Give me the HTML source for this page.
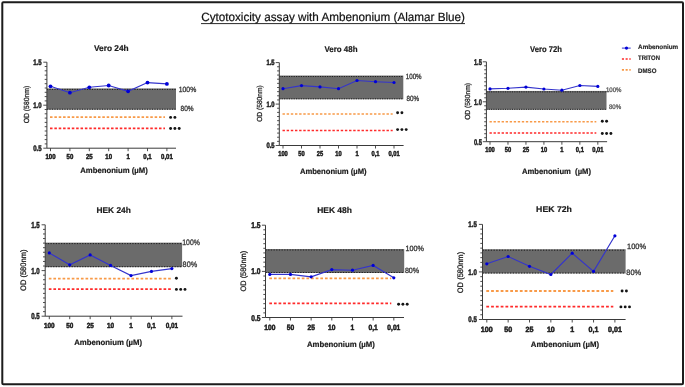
<!DOCTYPE html>
<html><head><meta charset="utf-8"><title>Cytotoxicity assay with Ambenonium</title>
<style>
html,body{margin:0;padding:0;background:#fff;}
body{width:685px;height:387px;overflow:hidden;}
svg{display:block;will-change:transform;filter:blur(0.35px);font-family:"Liberation Sans", sans-serif;}
</style></head>
<body>
<svg width="685" height="387" viewBox="0 0 685 387" text-rendering="geometricPrecision" font-family='"Liberation Sans", sans-serif'>
<rect x="0" y="0" width="685" height="387" fill="#fff"/>
<rect x="2.3" y="2.3" width="680.7" height="382" fill="none" stroke="#1c1c1c" stroke-width="2" rx="1"/>
<text x="201.2" y="21.4" font-size="12" textLength="263.8" lengthAdjust="spacingAndGlyphs" fill="#111" stroke="#111" stroke-width="0.2">Cytotoxicity assay with Ambenonium (Alamar Blue)</text>
<line x1="201" y1="23.6" x2="465" y2="23.6" stroke="#111" stroke-width="0.9"/>
<rect x="46.9" y="88.45" width="129.1" height="21.2" fill="#6b6b6b"/>
<line x1="46.9" y1="89.4" x2="176" y2="89.4" stroke="#1e1e1e" stroke-width="1" stroke-dasharray="1.2 1.3"/>
<line x1="46.9" y1="109.2" x2="176" y2="109.2" stroke="#1e1e1e" stroke-width="1" stroke-dasharray="1.2 1.3"/>
<line x1="50" y1="117.2" x2="165" y2="117.2" stroke="#f89a48" stroke-width="1.7" stroke-dasharray="2.53 1.83"/>
<line x1="50" y1="128.3" x2="165" y2="128.3" stroke="#ff2a2a" stroke-width="1.7" stroke-dasharray="2.53 1.83"/>
<line x1="46.9" y1="62.2" x2="46.9" y2="148.2" stroke="#3a3a3a" stroke-width="1"/>
<line x1="43.3" y1="148.2" x2="46.9" y2="148.2" stroke="#3a3a3a" stroke-width="0.9"/>
<line x1="44.7" y1="143.9" x2="46.9" y2="143.9" stroke="#3a3a3a" stroke-width="0.9"/>
<line x1="44.7" y1="139.6" x2="46.9" y2="139.6" stroke="#3a3a3a" stroke-width="0.9"/>
<line x1="44.7" y1="135.3" x2="46.9" y2="135.3" stroke="#3a3a3a" stroke-width="0.9"/>
<line x1="44.7" y1="131" x2="46.9" y2="131" stroke="#3a3a3a" stroke-width="0.9"/>
<line x1="44.7" y1="126.7" x2="46.9" y2="126.7" stroke="#3a3a3a" stroke-width="0.9"/>
<line x1="44.7" y1="122.4" x2="46.9" y2="122.4" stroke="#3a3a3a" stroke-width="0.9"/>
<line x1="44.7" y1="118.1" x2="46.9" y2="118.1" stroke="#3a3a3a" stroke-width="0.9"/>
<line x1="44.7" y1="113.8" x2="46.9" y2="113.8" stroke="#3a3a3a" stroke-width="0.9"/>
<line x1="44.7" y1="109.5" x2="46.9" y2="109.5" stroke="#3a3a3a" stroke-width="0.9"/>
<line x1="43.3" y1="105.2" x2="46.9" y2="105.2" stroke="#3a3a3a" stroke-width="0.9"/>
<line x1="44.7" y1="100.9" x2="46.9" y2="100.9" stroke="#3a3a3a" stroke-width="0.9"/>
<line x1="44.7" y1="96.6" x2="46.9" y2="96.6" stroke="#3a3a3a" stroke-width="0.9"/>
<line x1="44.7" y1="92.3" x2="46.9" y2="92.3" stroke="#3a3a3a" stroke-width="0.9"/>
<line x1="44.7" y1="88" x2="46.9" y2="88" stroke="#3a3a3a" stroke-width="0.9"/>
<line x1="44.7" y1="83.7" x2="46.9" y2="83.7" stroke="#3a3a3a" stroke-width="0.9"/>
<line x1="44.7" y1="79.4" x2="46.9" y2="79.4" stroke="#3a3a3a" stroke-width="0.9"/>
<line x1="44.7" y1="75.1" x2="46.9" y2="75.1" stroke="#3a3a3a" stroke-width="0.9"/>
<line x1="44.7" y1="70.8" x2="46.9" y2="70.8" stroke="#3a3a3a" stroke-width="0.9"/>
<line x1="44.7" y1="66.5" x2="46.9" y2="66.5" stroke="#3a3a3a" stroke-width="0.9"/>
<line x1="43.3" y1="62.2" x2="46.9" y2="62.2" stroke="#3a3a3a" stroke-width="0.9"/>
<line x1="46.9" y1="148.2" x2="176" y2="148.2" stroke="#3a3a3a" stroke-width="1"/>
<line x1="50.5" y1="148.2" x2="50.5" y2="151.2" stroke="#3a3a3a" stroke-width="0.9"/>
<line x1="69.9" y1="148.2" x2="69.9" y2="151.2" stroke="#3a3a3a" stroke-width="0.9"/>
<line x1="89.3" y1="148.2" x2="89.3" y2="151.2" stroke="#3a3a3a" stroke-width="0.9"/>
<line x1="108.7" y1="148.2" x2="108.7" y2="151.2" stroke="#3a3a3a" stroke-width="0.9"/>
<line x1="128.1" y1="148.2" x2="128.1" y2="151.2" stroke="#3a3a3a" stroke-width="0.9"/>
<line x1="147.5" y1="148.2" x2="147.5" y2="151.2" stroke="#3a3a3a" stroke-width="0.9"/>
<line x1="166.9" y1="148.2" x2="166.9" y2="151.2" stroke="#3a3a3a" stroke-width="0.9"/>
<polyline points="50.5,86.3 69.9,92.7 89.3,87.3 108.7,85.5 128.1,91.3 147.5,82.6 166.9,83.9" fill="none" stroke="#3434cc" stroke-width="1.15"/>
<circle cx="50.5" cy="86.3" r="1.9" fill="#0000d8"/>
<circle cx="69.9" cy="92.7" r="1.9" fill="#0000d8"/>
<circle cx="89.3" cy="87.3" r="1.9" fill="#0000d8"/>
<circle cx="108.7" cy="85.5" r="1.9" fill="#0000d8"/>
<circle cx="128.1" cy="91.3" r="1.9" fill="#0000d8"/>
<circle cx="147.5" cy="82.6" r="1.9" fill="#0000d8"/>
<circle cx="166.9" cy="83.9" r="1.9" fill="#0000d8"/>
<text x="33.2" y="65.06" font-size="8.0" font-weight="bold" textLength="8.4" lengthAdjust="spacingAndGlyphs" fill="#1a1a1a" stroke="#1a1a1a" stroke-width="0.5">1.5</text>
<text x="33.2" y="108.06" font-size="8.0" font-weight="bold" textLength="8.4" lengthAdjust="spacingAndGlyphs" fill="#1a1a1a" stroke="#1a1a1a" stroke-width="0.5">1.0</text>
<text x="33.2" y="151.06" font-size="8.0" font-weight="bold" textLength="8.4" lengthAdjust="spacingAndGlyphs" fill="#1a1a1a" stroke="#1a1a1a" stroke-width="0.5">0.5</text>
<text transform="translate(50.5,159.08) scale(0.84,1)" font-size="7.2" font-weight="bold" text-anchor="middle" fill="#1a1a1a" stroke="#1a1a1a" stroke-width="0.5">100</text>
<text transform="translate(69.9,159.08) scale(0.84,1)" font-size="7.2" font-weight="bold" text-anchor="middle" fill="#1a1a1a" stroke="#1a1a1a" stroke-width="0.5">50</text>
<text transform="translate(89.3,159.08) scale(0.84,1)" font-size="7.2" font-weight="bold" text-anchor="middle" fill="#1a1a1a" stroke="#1a1a1a" stroke-width="0.5">25</text>
<text transform="translate(108.7,159.08) scale(0.84,1)" font-size="7.2" font-weight="bold" text-anchor="middle" fill="#1a1a1a" stroke="#1a1a1a" stroke-width="0.5">10</text>
<text transform="translate(128.1,159.08) scale(0.84,1)" font-size="7.2" font-weight="bold" text-anchor="middle" fill="#1a1a1a" stroke="#1a1a1a" stroke-width="0.5">1</text>
<text transform="translate(147.5,159.08) scale(0.84,1)" font-size="7.2" font-weight="bold" text-anchor="middle" fill="#1a1a1a" stroke="#1a1a1a" stroke-width="0.5">0,1</text>
<text transform="translate(166.9,159.08) scale(0.84,1)" font-size="7.2" font-weight="bold" text-anchor="middle" fill="#1a1a1a" stroke="#1a1a1a" stroke-width="0.5">0,01</text>
<text x="178.8" y="91.69" font-size="7.5" textLength="17.4" lengthAdjust="spacingAndGlyphs" fill="#333" stroke="#333" stroke-width="0.3">100%</text>
<text x="180.5" y="110.59" font-size="7.5" textLength="13.1" lengthAdjust="spacingAndGlyphs" fill="#333" stroke="#333" stroke-width="0.3">80%</text>
<circle cx="170.6" cy="117.4" r="1.45" fill="#151515"/>
<circle cx="174.9" cy="117.4" r="1.45" fill="#151515"/>
<circle cx="170.6" cy="128.5" r="1.45" fill="#151515"/>
<circle cx="174.9" cy="128.5" r="1.45" fill="#151515"/>
<circle cx="179.2" cy="128.5" r="1.45" fill="#151515"/>
<text x="94" y="51.1" font-size="8.4" font-weight="bold" textLength="34.7" lengthAdjust="spacingAndGlyphs" fill="#1a1a1a" stroke="#1a1a1a" stroke-width="0.2">Vero 24h</text>
<text x="80.3" y="173.06" font-size="8" font-weight="bold" textLength="67.4" lengthAdjust="spacingAndGlyphs" fill="#1a1a1a" stroke="#1a1a1a" stroke-width="0.2" xml:space="preserve" style="white-space:pre">Ambenonium (µM)</text>
<text transform="translate(29.35,123.25) rotate(-90)" x="0" y="0" font-size="7.4" textLength="37.4" lengthAdjust="spacingAndGlyphs" fill="#1a1a1a" stroke="#1a1a1a" stroke-width="0.25">OD (580nm)</text>
<rect x="279.3" y="75.55" width="124" height="23.7" fill="#6b6b6b"/>
<line x1="279.3" y1="76.5" x2="403.3" y2="76.5" stroke="#1e1e1e" stroke-width="1" stroke-dasharray="1.15 1.24"/>
<line x1="279.3" y1="98.8" x2="403.3" y2="98.8" stroke="#1e1e1e" stroke-width="1" stroke-dasharray="1.15 1.24"/>
<line x1="282.5" y1="114" x2="392.7" y2="114" stroke="#f89a48" stroke-width="1.62" stroke-dasharray="2.41 1.75"/>
<line x1="282.5" y1="130.5" x2="392.7" y2="130.5" stroke="#ff2a2a" stroke-width="1.62" stroke-dasharray="2.41 1.75"/>
<line x1="279.3" y1="62.6" x2="279.3" y2="145.5" stroke="#3a3a3a" stroke-width="1"/>
<line x1="275.7" y1="145.5" x2="279.3" y2="145.5" stroke="#3a3a3a" stroke-width="0.9"/>
<line x1="277.1" y1="141.36" x2="279.3" y2="141.36" stroke="#3a3a3a" stroke-width="0.9"/>
<line x1="277.1" y1="137.22" x2="279.3" y2="137.22" stroke="#3a3a3a" stroke-width="0.9"/>
<line x1="277.1" y1="133.08" x2="279.3" y2="133.08" stroke="#3a3a3a" stroke-width="0.9"/>
<line x1="277.1" y1="128.94" x2="279.3" y2="128.94" stroke="#3a3a3a" stroke-width="0.9"/>
<line x1="277.1" y1="124.8" x2="279.3" y2="124.8" stroke="#3a3a3a" stroke-width="0.9"/>
<line x1="277.1" y1="120.66" x2="279.3" y2="120.66" stroke="#3a3a3a" stroke-width="0.9"/>
<line x1="277.1" y1="116.52" x2="279.3" y2="116.52" stroke="#3a3a3a" stroke-width="0.9"/>
<line x1="277.1" y1="112.38" x2="279.3" y2="112.38" stroke="#3a3a3a" stroke-width="0.9"/>
<line x1="277.1" y1="108.24" x2="279.3" y2="108.24" stroke="#3a3a3a" stroke-width="0.9"/>
<line x1="275.7" y1="104.1" x2="279.3" y2="104.1" stroke="#3a3a3a" stroke-width="0.9"/>
<line x1="277.1" y1="99.95" x2="279.3" y2="99.95" stroke="#3a3a3a" stroke-width="0.9"/>
<line x1="277.1" y1="95.8" x2="279.3" y2="95.8" stroke="#3a3a3a" stroke-width="0.9"/>
<line x1="277.1" y1="91.65" x2="279.3" y2="91.65" stroke="#3a3a3a" stroke-width="0.9"/>
<line x1="277.1" y1="87.5" x2="279.3" y2="87.5" stroke="#3a3a3a" stroke-width="0.9"/>
<line x1="277.1" y1="83.35" x2="279.3" y2="83.35" stroke="#3a3a3a" stroke-width="0.9"/>
<line x1="277.1" y1="79.2" x2="279.3" y2="79.2" stroke="#3a3a3a" stroke-width="0.9"/>
<line x1="277.1" y1="75.05" x2="279.3" y2="75.05" stroke="#3a3a3a" stroke-width="0.9"/>
<line x1="277.1" y1="70.9" x2="279.3" y2="70.9" stroke="#3a3a3a" stroke-width="0.9"/>
<line x1="277.1" y1="66.75" x2="279.3" y2="66.75" stroke="#3a3a3a" stroke-width="0.9"/>
<line x1="275.7" y1="62.6" x2="279.3" y2="62.6" stroke="#3a3a3a" stroke-width="0.9"/>
<line x1="279.3" y1="145.5" x2="403.6" y2="145.5" stroke="#3a3a3a" stroke-width="1"/>
<line x1="283" y1="145.5" x2="283" y2="148.5" stroke="#3a3a3a" stroke-width="0.9"/>
<line x1="301.5" y1="145.5" x2="301.5" y2="148.5" stroke="#3a3a3a" stroke-width="0.9"/>
<line x1="320" y1="145.5" x2="320" y2="148.5" stroke="#3a3a3a" stroke-width="0.9"/>
<line x1="338.5" y1="145.5" x2="338.5" y2="148.5" stroke="#3a3a3a" stroke-width="0.9"/>
<line x1="357" y1="145.5" x2="357" y2="148.5" stroke="#3a3a3a" stroke-width="0.9"/>
<line x1="375.5" y1="145.5" x2="375.5" y2="148.5" stroke="#3a3a3a" stroke-width="0.9"/>
<line x1="394" y1="145.5" x2="394" y2="148.5" stroke="#3a3a3a" stroke-width="0.9"/>
<polyline points="283,88.7 301.5,85.6 320,86.9 338.5,88.7 357,80.5 375.5,81.7 394,82.5" fill="none" stroke="#3434cc" stroke-width="1.15"/>
<circle cx="283" cy="88.7" r="1.6" fill="#0000d8"/>
<circle cx="301.5" cy="85.6" r="1.6" fill="#0000d8"/>
<circle cx="320" cy="86.9" r="1.6" fill="#0000d8"/>
<circle cx="338.5" cy="88.7" r="1.6" fill="#0000d8"/>
<circle cx="357" cy="80.5" r="1.6" fill="#0000d8"/>
<circle cx="375.5" cy="81.7" r="1.6" fill="#0000d8"/>
<circle cx="394" cy="82.5" r="1.6" fill="#0000d8"/>
<text x="266.5" y="65.39" font-size="7.8" font-weight="bold" textLength="8.1" lengthAdjust="spacingAndGlyphs" fill="#1a1a1a" stroke="#1a1a1a" stroke-width="0.5">1.5</text>
<text x="266.5" y="106.89" font-size="7.8" font-weight="bold" textLength="8.1" lengthAdjust="spacingAndGlyphs" fill="#1a1a1a" stroke="#1a1a1a" stroke-width="0.5">1.0</text>
<text x="266.5" y="148.29" font-size="7.8" font-weight="bold" textLength="8.1" lengthAdjust="spacingAndGlyphs" fill="#1a1a1a" stroke="#1a1a1a" stroke-width="0.5">0.5</text>
<text transform="translate(283,155.88) scale(0.8,1)" font-size="7.2" font-weight="bold" text-anchor="middle" fill="#1a1a1a" stroke="#1a1a1a" stroke-width="0.5">100</text>
<text transform="translate(301.5,155.88) scale(0.8,1)" font-size="7.2" font-weight="bold" text-anchor="middle" fill="#1a1a1a" stroke="#1a1a1a" stroke-width="0.5">50</text>
<text transform="translate(320,155.88) scale(0.8,1)" font-size="7.2" font-weight="bold" text-anchor="middle" fill="#1a1a1a" stroke="#1a1a1a" stroke-width="0.5">25</text>
<text transform="translate(338.5,155.88) scale(0.8,1)" font-size="7.2" font-weight="bold" text-anchor="middle" fill="#1a1a1a" stroke="#1a1a1a" stroke-width="0.5">10</text>
<text transform="translate(357,155.88) scale(0.8,1)" font-size="7.2" font-weight="bold" text-anchor="middle" fill="#1a1a1a" stroke="#1a1a1a" stroke-width="0.5">1</text>
<text transform="translate(375.5,155.88) scale(0.8,1)" font-size="7.2" font-weight="bold" text-anchor="middle" fill="#1a1a1a" stroke="#1a1a1a" stroke-width="0.5">0,1</text>
<text transform="translate(394,155.88) scale(0.8,1)" font-size="7.2" font-weight="bold" text-anchor="middle" fill="#1a1a1a" stroke="#1a1a1a" stroke-width="0.5">0,01</text>
<text x="405.8" y="79.28" font-size="7.5" textLength="15.8" lengthAdjust="spacingAndGlyphs" fill="#333" stroke="#333" stroke-width="0.3">100%</text>
<text x="406.6" y="100.78" font-size="7.5" textLength="12.6" lengthAdjust="spacingAndGlyphs" fill="#333" stroke="#333" stroke-width="0.3">80%</text>
<circle cx="397.6" cy="112.8" r="1.45" fill="#151515"/>
<circle cx="401.9" cy="112.8" r="1.45" fill="#151515"/>
<circle cx="397.6" cy="129.6" r="1.45" fill="#151515"/>
<circle cx="401.9" cy="129.6" r="1.45" fill="#151515"/>
<circle cx="406.2" cy="129.6" r="1.45" fill="#151515"/>
<text x="324.5" y="52.1" font-size="8.4" font-weight="bold" textLength="33" lengthAdjust="spacingAndGlyphs" fill="#1a1a1a" stroke="#1a1a1a" stroke-width="0.2">Vero 48h</text>
<text x="299.9" y="174.26" font-size="8" font-weight="bold" textLength="66.7" lengthAdjust="spacingAndGlyphs" fill="#1a1a1a" stroke="#1a1a1a" stroke-width="0.2" xml:space="preserve" style="white-space:pre">Ambenonium (µM)</text>
<text transform="translate(262.02,121.85) rotate(-90)" x="0" y="0" font-size="7.3" textLength="36.6" lengthAdjust="spacingAndGlyphs" fill="#1a1a1a" stroke="#1a1a1a" stroke-width="0.25">OD (580nm)</text>
<rect x="486.4" y="90.95" width="120.1" height="18.8" fill="#6b6b6b"/>
<line x1="486.4" y1="91.9" x2="606.5" y2="91.9" stroke="#1e1e1e" stroke-width="1" stroke-dasharray="1.11 1.21"/>
<line x1="486.4" y1="109.3" x2="606.5" y2="109.3" stroke="#1e1e1e" stroke-width="1" stroke-dasharray="1.11 1.21"/>
<line x1="489.5" y1="121.8" x2="596.3" y2="121.8" stroke="#f89a48" stroke-width="1.57" stroke-dasharray="2.34 1.7"/>
<line x1="489.5" y1="133" x2="596.3" y2="133" stroke="#ff2a2a" stroke-width="1.57" stroke-dasharray="2.34 1.7"/>
<line x1="486.4" y1="61.8" x2="486.4" y2="141.7" stroke="#3a3a3a" stroke-width="1"/>
<line x1="482.8" y1="141.7" x2="486.4" y2="141.7" stroke="#3a3a3a" stroke-width="0.9"/>
<line x1="484.2" y1="137.71" x2="486.4" y2="137.71" stroke="#3a3a3a" stroke-width="0.9"/>
<line x1="484.2" y1="133.72" x2="486.4" y2="133.72" stroke="#3a3a3a" stroke-width="0.9"/>
<line x1="484.2" y1="129.73" x2="486.4" y2="129.73" stroke="#3a3a3a" stroke-width="0.9"/>
<line x1="484.2" y1="125.74" x2="486.4" y2="125.74" stroke="#3a3a3a" stroke-width="0.9"/>
<line x1="484.2" y1="121.75" x2="486.4" y2="121.75" stroke="#3a3a3a" stroke-width="0.9"/>
<line x1="484.2" y1="117.76" x2="486.4" y2="117.76" stroke="#3a3a3a" stroke-width="0.9"/>
<line x1="484.2" y1="113.77" x2="486.4" y2="113.77" stroke="#3a3a3a" stroke-width="0.9"/>
<line x1="484.2" y1="109.78" x2="486.4" y2="109.78" stroke="#3a3a3a" stroke-width="0.9"/>
<line x1="484.2" y1="105.79" x2="486.4" y2="105.79" stroke="#3a3a3a" stroke-width="0.9"/>
<line x1="482.8" y1="101.8" x2="486.4" y2="101.8" stroke="#3a3a3a" stroke-width="0.9"/>
<line x1="484.2" y1="97.8" x2="486.4" y2="97.8" stroke="#3a3a3a" stroke-width="0.9"/>
<line x1="484.2" y1="93.8" x2="486.4" y2="93.8" stroke="#3a3a3a" stroke-width="0.9"/>
<line x1="484.2" y1="89.8" x2="486.4" y2="89.8" stroke="#3a3a3a" stroke-width="0.9"/>
<line x1="484.2" y1="85.8" x2="486.4" y2="85.8" stroke="#3a3a3a" stroke-width="0.9"/>
<line x1="484.2" y1="81.8" x2="486.4" y2="81.8" stroke="#3a3a3a" stroke-width="0.9"/>
<line x1="484.2" y1="77.8" x2="486.4" y2="77.8" stroke="#3a3a3a" stroke-width="0.9"/>
<line x1="484.2" y1="73.8" x2="486.4" y2="73.8" stroke="#3a3a3a" stroke-width="0.9"/>
<line x1="484.2" y1="69.8" x2="486.4" y2="69.8" stroke="#3a3a3a" stroke-width="0.9"/>
<line x1="484.2" y1="65.8" x2="486.4" y2="65.8" stroke="#3a3a3a" stroke-width="0.9"/>
<line x1="482.8" y1="61.8" x2="486.4" y2="61.8" stroke="#3a3a3a" stroke-width="0.9"/>
<line x1="486.4" y1="141.7" x2="607.1" y2="141.7" stroke="#3a3a3a" stroke-width="1"/>
<line x1="490" y1="141.7" x2="490" y2="144.7" stroke="#3a3a3a" stroke-width="0.9"/>
<line x1="507.97" y1="141.7" x2="507.97" y2="144.7" stroke="#3a3a3a" stroke-width="0.9"/>
<line x1="525.94" y1="141.7" x2="525.94" y2="144.7" stroke="#3a3a3a" stroke-width="0.9"/>
<line x1="543.91" y1="141.7" x2="543.91" y2="144.7" stroke="#3a3a3a" stroke-width="0.9"/>
<line x1="561.88" y1="141.7" x2="561.88" y2="144.7" stroke="#3a3a3a" stroke-width="0.9"/>
<line x1="579.85" y1="141.7" x2="579.85" y2="144.7" stroke="#3a3a3a" stroke-width="0.9"/>
<line x1="597.82" y1="141.7" x2="597.82" y2="144.7" stroke="#3a3a3a" stroke-width="0.9"/>
<polyline points="490,88.9 507.97,88.3 525.94,87.1 543.91,89 561.88,90.2 579.85,85.5 597.82,86.4" fill="none" stroke="#3434cc" stroke-width="1.15"/>
<circle cx="490" cy="88.9" r="1.6" fill="#0000d8"/>
<circle cx="507.97" cy="88.3" r="1.6" fill="#0000d8"/>
<circle cx="525.94" cy="87.1" r="1.6" fill="#0000d8"/>
<circle cx="543.91" cy="89" r="1.6" fill="#0000d8"/>
<circle cx="561.88" cy="90.2" r="1.6" fill="#0000d8"/>
<circle cx="579.85" cy="85.5" r="1.6" fill="#0000d8"/>
<circle cx="597.82" cy="86.4" r="1.6" fill="#0000d8"/>
<text x="473.9" y="64.74" font-size="8.2" font-weight="bold" textLength="7.9" lengthAdjust="spacingAndGlyphs" fill="#1a1a1a" stroke="#1a1a1a" stroke-width="0.5">1.5</text>
<text x="473.9" y="104.74" font-size="8.2" font-weight="bold" textLength="7.9" lengthAdjust="spacingAndGlyphs" fill="#1a1a1a" stroke="#1a1a1a" stroke-width="0.5">1.0</text>
<text x="473.9" y="144.64" font-size="8.2" font-weight="bold" textLength="7.9" lengthAdjust="spacingAndGlyphs" fill="#1a1a1a" stroke="#1a1a1a" stroke-width="0.5">0.5</text>
<text transform="translate(490,151.88) scale(0.8,1)" font-size="7.2" font-weight="bold" text-anchor="middle" fill="#1a1a1a" stroke="#1a1a1a" stroke-width="0.5">100</text>
<text transform="translate(507.97,151.88) scale(0.8,1)" font-size="7.2" font-weight="bold" text-anchor="middle" fill="#1a1a1a" stroke="#1a1a1a" stroke-width="0.5">50</text>
<text transform="translate(525.94,151.88) scale(0.8,1)" font-size="7.2" font-weight="bold" text-anchor="middle" fill="#1a1a1a" stroke="#1a1a1a" stroke-width="0.5">25</text>
<text transform="translate(543.91,151.88) scale(0.8,1)" font-size="7.2" font-weight="bold" text-anchor="middle" fill="#1a1a1a" stroke="#1a1a1a" stroke-width="0.5">10</text>
<text transform="translate(561.88,151.88) scale(0.8,1)" font-size="7.2" font-weight="bold" text-anchor="middle" fill="#1a1a1a" stroke="#1a1a1a" stroke-width="0.5">1</text>
<text transform="translate(579.85,151.88) scale(0.8,1)" font-size="7.2" font-weight="bold" text-anchor="middle" fill="#1a1a1a" stroke="#1a1a1a" stroke-width="0.5">0,1</text>
<text transform="translate(597.82,151.88) scale(0.8,1)" font-size="7.2" font-weight="bold" text-anchor="middle" fill="#1a1a1a" stroke="#1a1a1a" stroke-width="0.5">0,01</text>
<text x="606" y="91.96" font-size="6.6" textLength="15.5" lengthAdjust="spacingAndGlyphs" fill="#555" stroke="#555" stroke-width="0.3">100%</text>
<text x="608.9" y="109.36" font-size="6.6" textLength="12.3" lengthAdjust="spacingAndGlyphs" fill="#555" stroke="#555" stroke-width="0.3">80%</text>
<circle cx="602.3" cy="121.2" r="1.45" fill="#151515"/>
<circle cx="606.6" cy="121.2" r="1.45" fill="#151515"/>
<circle cx="602.3" cy="133.5" r="1.45" fill="#151515"/>
<circle cx="606.6" cy="133.5" r="1.45" fill="#151515"/>
<circle cx="610.9" cy="133.5" r="1.45" fill="#151515"/>
<text x="530" y="51.8" font-size="8.4" font-weight="bold" textLength="31.9" lengthAdjust="spacingAndGlyphs" fill="#1a1a1a" stroke="#1a1a1a" stroke-width="0.2">Vero 72h</text>
<text x="522" y="174.26" font-size="8" font-weight="bold" textLength="69" lengthAdjust="spacingAndGlyphs" fill="#1a1a1a" stroke="#1a1a1a" stroke-width="0.2" xml:space="preserve" style="white-space:pre">Ambenonium  (µM)</text>
<text transform="translate(470.37,119.85) rotate(-90)" x="0" y="0" font-size="7.3" textLength="36.9" lengthAdjust="spacingAndGlyphs" fill="#1a1a1a" stroke="#1a1a1a" stroke-width="0.25">OD (580nm)</text>
<rect x="45.2" y="242.65" width="136.9" height="24.5" fill="#6b6b6b"/>
<line x1="45.2" y1="243.6" x2="182.1" y2="243.6" stroke="#1e1e1e" stroke-width="1" stroke-dasharray="1.27 1.37"/>
<line x1="45.2" y1="266.7" x2="182.1" y2="266.7" stroke="#1e1e1e" stroke-width="1" stroke-dasharray="1.27 1.37"/>
<line x1="48.8" y1="278.7" x2="171" y2="278.7" stroke="#f89a48" stroke-width="1.79" stroke-dasharray="2.66 1.93"/>
<line x1="48.8" y1="289.1" x2="171" y2="289.1" stroke="#ff2a2a" stroke-width="1.79" stroke-dasharray="2.66 1.93"/>
<line x1="45.2" y1="224.8" x2="45.2" y2="316.2" stroke="#3a3a3a" stroke-width="1"/>
<line x1="41.6" y1="316.2" x2="45.2" y2="316.2" stroke="#3a3a3a" stroke-width="0.9"/>
<line x1="43" y1="311.64" x2="45.2" y2="311.64" stroke="#3a3a3a" stroke-width="0.9"/>
<line x1="43" y1="307.08" x2="45.2" y2="307.08" stroke="#3a3a3a" stroke-width="0.9"/>
<line x1="43" y1="302.52" x2="45.2" y2="302.52" stroke="#3a3a3a" stroke-width="0.9"/>
<line x1="43" y1="297.96" x2="45.2" y2="297.96" stroke="#3a3a3a" stroke-width="0.9"/>
<line x1="43" y1="293.4" x2="45.2" y2="293.4" stroke="#3a3a3a" stroke-width="0.9"/>
<line x1="43" y1="288.84" x2="45.2" y2="288.84" stroke="#3a3a3a" stroke-width="0.9"/>
<line x1="43" y1="284.28" x2="45.2" y2="284.28" stroke="#3a3a3a" stroke-width="0.9"/>
<line x1="43" y1="279.72" x2="45.2" y2="279.72" stroke="#3a3a3a" stroke-width="0.9"/>
<line x1="43" y1="275.16" x2="45.2" y2="275.16" stroke="#3a3a3a" stroke-width="0.9"/>
<line x1="41.6" y1="270.6" x2="45.2" y2="270.6" stroke="#3a3a3a" stroke-width="0.9"/>
<line x1="43" y1="266.02" x2="45.2" y2="266.02" stroke="#3a3a3a" stroke-width="0.9"/>
<line x1="43" y1="261.44" x2="45.2" y2="261.44" stroke="#3a3a3a" stroke-width="0.9"/>
<line x1="43" y1="256.86" x2="45.2" y2="256.86" stroke="#3a3a3a" stroke-width="0.9"/>
<line x1="43" y1="252.28" x2="45.2" y2="252.28" stroke="#3a3a3a" stroke-width="0.9"/>
<line x1="43" y1="247.7" x2="45.2" y2="247.7" stroke="#3a3a3a" stroke-width="0.9"/>
<line x1="43" y1="243.12" x2="45.2" y2="243.12" stroke="#3a3a3a" stroke-width="0.9"/>
<line x1="43" y1="238.54" x2="45.2" y2="238.54" stroke="#3a3a3a" stroke-width="0.9"/>
<line x1="43" y1="233.96" x2="45.2" y2="233.96" stroke="#3a3a3a" stroke-width="0.9"/>
<line x1="43" y1="229.38" x2="45.2" y2="229.38" stroke="#3a3a3a" stroke-width="0.9"/>
<line x1="41.6" y1="224.8" x2="45.2" y2="224.8" stroke="#3a3a3a" stroke-width="0.9"/>
<line x1="45.2" y1="316.2" x2="182.5" y2="316.2" stroke="#3a3a3a" stroke-width="1"/>
<line x1="49.3" y1="316.2" x2="49.3" y2="319.2" stroke="#3a3a3a" stroke-width="0.9"/>
<line x1="69.73" y1="316.2" x2="69.73" y2="319.2" stroke="#3a3a3a" stroke-width="0.9"/>
<line x1="90.16" y1="316.2" x2="90.16" y2="319.2" stroke="#3a3a3a" stroke-width="0.9"/>
<line x1="110.59" y1="316.2" x2="110.59" y2="319.2" stroke="#3a3a3a" stroke-width="0.9"/>
<line x1="131.02" y1="316.2" x2="131.02" y2="319.2" stroke="#3a3a3a" stroke-width="0.9"/>
<line x1="151.45" y1="316.2" x2="151.45" y2="319.2" stroke="#3a3a3a" stroke-width="0.9"/>
<line x1="171.88" y1="316.2" x2="171.88" y2="319.2" stroke="#3a3a3a" stroke-width="0.9"/>
<polyline points="49.3,252.9 69.73,264.8 90.16,254.9 110.59,265.4 131.02,275.6 151.45,271.4 171.88,268.6" fill="none" stroke="#3434cc" stroke-width="1.15"/>
<circle cx="49.3" cy="252.9" r="1.6" fill="#0000d8"/>
<circle cx="69.73" cy="264.8" r="1.6" fill="#0000d8"/>
<circle cx="90.16" cy="254.9" r="1.6" fill="#0000d8"/>
<circle cx="110.59" cy="265.4" r="1.6" fill="#0000d8"/>
<circle cx="131.02" cy="275.6" r="1.6" fill="#0000d8"/>
<circle cx="151.45" cy="271.4" r="1.6" fill="#0000d8"/>
<circle cx="171.88" cy="268.6" r="1.6" fill="#0000d8"/>
<text x="31.2" y="227.88" font-size="8.6" font-weight="bold" textLength="8.5" lengthAdjust="spacingAndGlyphs" fill="#1a1a1a" stroke="#1a1a1a" stroke-width="0.5">1.5</text>
<text x="31.2" y="273.68" font-size="8.6" font-weight="bold" textLength="8.5" lengthAdjust="spacingAndGlyphs" fill="#1a1a1a" stroke="#1a1a1a" stroke-width="0.5">1.0</text>
<text x="31.2" y="319.28" font-size="8.6" font-weight="bold" textLength="8.5" lengthAdjust="spacingAndGlyphs" fill="#1a1a1a" stroke="#1a1a1a" stroke-width="0.5">0.5</text>
<text transform="translate(49.3,327.85) scale(0.86,1)" font-size="7.4" font-weight="bold" text-anchor="middle" fill="#1a1a1a" stroke="#1a1a1a" stroke-width="0.5">100</text>
<text transform="translate(69.73,327.85) scale(0.86,1)" font-size="7.4" font-weight="bold" text-anchor="middle" fill="#1a1a1a" stroke="#1a1a1a" stroke-width="0.5">50</text>
<text transform="translate(90.16,327.85) scale(0.86,1)" font-size="7.4" font-weight="bold" text-anchor="middle" fill="#1a1a1a" stroke="#1a1a1a" stroke-width="0.5">25</text>
<text transform="translate(110.59,327.85) scale(0.86,1)" font-size="7.4" font-weight="bold" text-anchor="middle" fill="#1a1a1a" stroke="#1a1a1a" stroke-width="0.5">10</text>
<text transform="translate(131.02,327.85) scale(0.86,1)" font-size="7.4" font-weight="bold" text-anchor="middle" fill="#1a1a1a" stroke="#1a1a1a" stroke-width="0.5">1</text>
<text transform="translate(151.45,327.85) scale(0.86,1)" font-size="7.4" font-weight="bold" text-anchor="middle" fill="#1a1a1a" stroke="#1a1a1a" stroke-width="0.5">0,1</text>
<text transform="translate(171.88,327.85) scale(0.86,1)" font-size="7.4" font-weight="bold" text-anchor="middle" fill="#1a1a1a" stroke="#1a1a1a" stroke-width="0.5">0,01</text>
<text x="182.3" y="244.93" font-size="7.9" textLength="17.6" lengthAdjust="spacingAndGlyphs" fill="#333" stroke="#333" stroke-width="0.3">100%</text>
<text x="182.6" y="267.33" font-size="7.9" textLength="14.6" lengthAdjust="spacingAndGlyphs" fill="#333" stroke="#333" stroke-width="0.3">80%</text>
<circle cx="176.4" cy="278.3" r="1.45" fill="#151515"/>
<circle cx="176.4" cy="289.4" r="1.45" fill="#151515"/>
<circle cx="180.7" cy="289.4" r="1.45" fill="#151515"/>
<circle cx="185" cy="289.4" r="1.45" fill="#151515"/>
<text x="96.5" y="213.3" font-size="8.4" font-weight="bold" textLength="34.3" lengthAdjust="spacingAndGlyphs" fill="#1a1a1a" stroke="#1a1a1a" stroke-width="0.2">HEK 24h</text>
<text x="74.2" y="345.06" font-size="8" font-weight="bold" textLength="67.9" lengthAdjust="spacingAndGlyphs" fill="#1a1a1a" stroke="#1a1a1a" stroke-width="0.2" xml:space="preserve" style="white-space:pre">Ambenonium (µM)</text>
<text transform="translate(26.26,290.95) rotate(-90)" x="0" y="0" font-size="8.0" textLength="41.4" lengthAdjust="spacingAndGlyphs" fill="#1a1a1a" stroke="#1a1a1a" stroke-width="0.25">OD (580nm)</text>
<rect x="265.5" y="249.05" width="138.7" height="23.9" fill="#6b6b6b"/>
<line x1="265.5" y1="250" x2="404.2" y2="250" stroke="#1e1e1e" stroke-width="1" stroke-dasharray="1.28 1.39"/>
<line x1="265.5" y1="272.5" x2="404.2" y2="272.5" stroke="#1e1e1e" stroke-width="1" stroke-dasharray="1.28 1.39"/>
<line x1="269.3" y1="278.3" x2="391.3" y2="278.3" stroke="#f89a48" stroke-width="1.81" stroke-dasharray="2.69 1.95"/>
<line x1="269.3" y1="303.3" x2="391.3" y2="303.3" stroke="#ff2a2a" stroke-width="1.81" stroke-dasharray="2.69 1.95"/>
<line x1="265.5" y1="225.2" x2="265.5" y2="317.5" stroke="#3a3a3a" stroke-width="1"/>
<line x1="261.9" y1="317.5" x2="265.5" y2="317.5" stroke="#3a3a3a" stroke-width="0.9"/>
<line x1="263.3" y1="312.89" x2="265.5" y2="312.89" stroke="#3a3a3a" stroke-width="0.9"/>
<line x1="263.3" y1="308.28" x2="265.5" y2="308.28" stroke="#3a3a3a" stroke-width="0.9"/>
<line x1="263.3" y1="303.67" x2="265.5" y2="303.67" stroke="#3a3a3a" stroke-width="0.9"/>
<line x1="263.3" y1="299.06" x2="265.5" y2="299.06" stroke="#3a3a3a" stroke-width="0.9"/>
<line x1="263.3" y1="294.45" x2="265.5" y2="294.45" stroke="#3a3a3a" stroke-width="0.9"/>
<line x1="263.3" y1="289.84" x2="265.5" y2="289.84" stroke="#3a3a3a" stroke-width="0.9"/>
<line x1="263.3" y1="285.23" x2="265.5" y2="285.23" stroke="#3a3a3a" stroke-width="0.9"/>
<line x1="263.3" y1="280.62" x2="265.5" y2="280.62" stroke="#3a3a3a" stroke-width="0.9"/>
<line x1="263.3" y1="276.01" x2="265.5" y2="276.01" stroke="#3a3a3a" stroke-width="0.9"/>
<line x1="261.9" y1="271.4" x2="265.5" y2="271.4" stroke="#3a3a3a" stroke-width="0.9"/>
<line x1="263.3" y1="266.78" x2="265.5" y2="266.78" stroke="#3a3a3a" stroke-width="0.9"/>
<line x1="263.3" y1="262.16" x2="265.5" y2="262.16" stroke="#3a3a3a" stroke-width="0.9"/>
<line x1="263.3" y1="257.54" x2="265.5" y2="257.54" stroke="#3a3a3a" stroke-width="0.9"/>
<line x1="263.3" y1="252.92" x2="265.5" y2="252.92" stroke="#3a3a3a" stroke-width="0.9"/>
<line x1="263.3" y1="248.3" x2="265.5" y2="248.3" stroke="#3a3a3a" stroke-width="0.9"/>
<line x1="263.3" y1="243.68" x2="265.5" y2="243.68" stroke="#3a3a3a" stroke-width="0.9"/>
<line x1="263.3" y1="239.06" x2="265.5" y2="239.06" stroke="#3a3a3a" stroke-width="0.9"/>
<line x1="263.3" y1="234.44" x2="265.5" y2="234.44" stroke="#3a3a3a" stroke-width="0.9"/>
<line x1="263.3" y1="229.82" x2="265.5" y2="229.82" stroke="#3a3a3a" stroke-width="0.9"/>
<line x1="261.9" y1="225.2" x2="265.5" y2="225.2" stroke="#3a3a3a" stroke-width="0.9"/>
<line x1="265.5" y1="317.5" x2="404" y2="317.5" stroke="#3a3a3a" stroke-width="1"/>
<line x1="269.8" y1="317.5" x2="269.8" y2="320.5" stroke="#3a3a3a" stroke-width="0.9"/>
<line x1="290.47" y1="317.5" x2="290.47" y2="320.5" stroke="#3a3a3a" stroke-width="0.9"/>
<line x1="311.14" y1="317.5" x2="311.14" y2="320.5" stroke="#3a3a3a" stroke-width="0.9"/>
<line x1="331.81" y1="317.5" x2="331.81" y2="320.5" stroke="#3a3a3a" stroke-width="0.9"/>
<line x1="352.48" y1="317.5" x2="352.48" y2="320.5" stroke="#3a3a3a" stroke-width="0.9"/>
<line x1="373.15" y1="317.5" x2="373.15" y2="320.5" stroke="#3a3a3a" stroke-width="0.9"/>
<line x1="393.82" y1="317.5" x2="393.82" y2="320.5" stroke="#3a3a3a" stroke-width="0.9"/>
<polyline points="269.8,274.4 290.47,274.4 311.14,276.8 331.81,269.6 352.48,270.2 373.15,265.4 393.82,277.8" fill="none" stroke="#3434cc" stroke-width="1.15"/>
<circle cx="269.8" cy="274.4" r="1.6" fill="#0000d8"/>
<circle cx="290.47" cy="274.4" r="1.6" fill="#0000d8"/>
<circle cx="311.14" cy="276.8" r="1.6" fill="#0000d8"/>
<circle cx="331.81" cy="269.6" r="1.6" fill="#0000d8"/>
<circle cx="352.48" cy="270.2" r="1.6" fill="#0000d8"/>
<circle cx="373.15" cy="265.4" r="1.6" fill="#0000d8"/>
<circle cx="393.82" cy="277.8" r="1.6" fill="#0000d8"/>
<text x="251.2" y="228.21" font-size="8.4" font-weight="bold" textLength="9.3" lengthAdjust="spacingAndGlyphs" fill="#1a1a1a" stroke="#1a1a1a" stroke-width="0.5">1.5</text>
<text x="251.2" y="274.41" font-size="8.4" font-weight="bold" textLength="9.3" lengthAdjust="spacingAndGlyphs" fill="#1a1a1a" stroke="#1a1a1a" stroke-width="0.5">1.0</text>
<text x="251.2" y="320.51" font-size="8.4" font-weight="bold" textLength="9.3" lengthAdjust="spacingAndGlyphs" fill="#1a1a1a" stroke="#1a1a1a" stroke-width="0.5">0.5</text>
<text transform="translate(269.8,329.62) scale(0.88,1)" font-size="7.6" font-weight="bold" text-anchor="middle" fill="#1a1a1a" stroke="#1a1a1a" stroke-width="0.5">100</text>
<text transform="translate(290.47,329.62) scale(0.88,1)" font-size="7.6" font-weight="bold" text-anchor="middle" fill="#1a1a1a" stroke="#1a1a1a" stroke-width="0.5">50</text>
<text transform="translate(311.14,329.62) scale(0.88,1)" font-size="7.6" font-weight="bold" text-anchor="middle" fill="#1a1a1a" stroke="#1a1a1a" stroke-width="0.5">25</text>
<text transform="translate(331.81,329.62) scale(0.88,1)" font-size="7.6" font-weight="bold" text-anchor="middle" fill="#1a1a1a" stroke="#1a1a1a" stroke-width="0.5">10</text>
<text transform="translate(352.48,329.62) scale(0.88,1)" font-size="7.6" font-weight="bold" text-anchor="middle" fill="#1a1a1a" stroke="#1a1a1a" stroke-width="0.5">1</text>
<text transform="translate(373.15,329.62) scale(0.88,1)" font-size="7.6" font-weight="bold" text-anchor="middle" fill="#1a1a1a" stroke="#1a1a1a" stroke-width="0.5">0,1</text>
<text transform="translate(393.82,329.62) scale(0.88,1)" font-size="7.6" font-weight="bold" text-anchor="middle" fill="#1a1a1a" stroke="#1a1a1a" stroke-width="0.5">0,01</text>
<text x="405.5" y="251.06" font-size="7.7" textLength="18.4" lengthAdjust="spacingAndGlyphs" fill="#333" stroke="#333" stroke-width="0.3">100%</text>
<text x="404.9" y="273.36" font-size="7.7" textLength="14.3" lengthAdjust="spacingAndGlyphs" fill="#333" stroke="#333" stroke-width="0.3">80%</text>
<circle cx="398.6" cy="304.3" r="1.45" fill="#151515"/>
<circle cx="402.9" cy="304.3" r="1.45" fill="#151515"/>
<circle cx="407.2" cy="304.3" r="1.45" fill="#151515"/>
<text x="317.2" y="213.3" font-size="8.4" font-weight="bold" textLength="34.7" lengthAdjust="spacingAndGlyphs" fill="#1a1a1a" stroke="#1a1a1a" stroke-width="0.2">HEK 48h</text>
<text x="307" y="347.06" font-size="8" font-weight="bold" textLength="67.9" lengthAdjust="spacingAndGlyphs" fill="#1a1a1a" stroke="#1a1a1a" stroke-width="0.2" xml:space="preserve" style="white-space:pre">Ambenonium (µM)</text>
<text transform="translate(246.43,291.55) rotate(-90)" x="0" y="0" font-size="7.9" textLength="40.8" lengthAdjust="spacingAndGlyphs" fill="#1a1a1a" stroke="#1a1a1a" stroke-width="0.25">OD (580nm)</text>
<rect x="482.5" y="249.25" width="143.1" height="24.2" fill="#6b6b6b"/>
<line x1="482.5" y1="250.2" x2="625.6" y2="250.2" stroke="#1e1e1e" stroke-width="1" stroke-dasharray="1.32 1.43"/>
<line x1="482.5" y1="273" x2="625.6" y2="273" stroke="#1e1e1e" stroke-width="1" stroke-dasharray="1.32 1.43"/>
<line x1="486.3" y1="291" x2="613.3" y2="291" stroke="#f89a48" stroke-width="1.87" stroke-dasharray="2.78 2.01"/>
<line x1="486.3" y1="306.6" x2="613.3" y2="306.6" stroke="#ff2a2a" stroke-width="1.87" stroke-dasharray="2.78 2.01"/>
<line x1="482.5" y1="224.4" x2="482.5" y2="319.5" stroke="#3a3a3a" stroke-width="1"/>
<line x1="478.9" y1="319.5" x2="482.5" y2="319.5" stroke="#3a3a3a" stroke-width="0.9"/>
<line x1="480.3" y1="314.74" x2="482.5" y2="314.74" stroke="#3a3a3a" stroke-width="0.9"/>
<line x1="480.3" y1="309.98" x2="482.5" y2="309.98" stroke="#3a3a3a" stroke-width="0.9"/>
<line x1="480.3" y1="305.22" x2="482.5" y2="305.22" stroke="#3a3a3a" stroke-width="0.9"/>
<line x1="480.3" y1="300.46" x2="482.5" y2="300.46" stroke="#3a3a3a" stroke-width="0.9"/>
<line x1="480.3" y1="295.7" x2="482.5" y2="295.7" stroke="#3a3a3a" stroke-width="0.9"/>
<line x1="480.3" y1="290.94" x2="482.5" y2="290.94" stroke="#3a3a3a" stroke-width="0.9"/>
<line x1="480.3" y1="286.18" x2="482.5" y2="286.18" stroke="#3a3a3a" stroke-width="0.9"/>
<line x1="480.3" y1="281.42" x2="482.5" y2="281.42" stroke="#3a3a3a" stroke-width="0.9"/>
<line x1="480.3" y1="276.66" x2="482.5" y2="276.66" stroke="#3a3a3a" stroke-width="0.9"/>
<line x1="478.9" y1="271.9" x2="482.5" y2="271.9" stroke="#3a3a3a" stroke-width="0.9"/>
<line x1="480.3" y1="267.15" x2="482.5" y2="267.15" stroke="#3a3a3a" stroke-width="0.9"/>
<line x1="480.3" y1="262.4" x2="482.5" y2="262.4" stroke="#3a3a3a" stroke-width="0.9"/>
<line x1="480.3" y1="257.65" x2="482.5" y2="257.65" stroke="#3a3a3a" stroke-width="0.9"/>
<line x1="480.3" y1="252.9" x2="482.5" y2="252.9" stroke="#3a3a3a" stroke-width="0.9"/>
<line x1="480.3" y1="248.15" x2="482.5" y2="248.15" stroke="#3a3a3a" stroke-width="0.9"/>
<line x1="480.3" y1="243.4" x2="482.5" y2="243.4" stroke="#3a3a3a" stroke-width="0.9"/>
<line x1="480.3" y1="238.65" x2="482.5" y2="238.65" stroke="#3a3a3a" stroke-width="0.9"/>
<line x1="480.3" y1="233.9" x2="482.5" y2="233.9" stroke="#3a3a3a" stroke-width="0.9"/>
<line x1="480.3" y1="229.15" x2="482.5" y2="229.15" stroke="#3a3a3a" stroke-width="0.9"/>
<line x1="478.9" y1="224.4" x2="482.5" y2="224.4" stroke="#3a3a3a" stroke-width="0.9"/>
<line x1="482.5" y1="319.5" x2="625.6" y2="319.5" stroke="#3a3a3a" stroke-width="1"/>
<line x1="486.8" y1="319.5" x2="486.8" y2="322.5" stroke="#3a3a3a" stroke-width="0.9"/>
<line x1="508.15" y1="319.5" x2="508.15" y2="322.5" stroke="#3a3a3a" stroke-width="0.9"/>
<line x1="529.5" y1="319.5" x2="529.5" y2="322.5" stroke="#3a3a3a" stroke-width="0.9"/>
<line x1="550.85" y1="319.5" x2="550.85" y2="322.5" stroke="#3a3a3a" stroke-width="0.9"/>
<line x1="572.2" y1="319.5" x2="572.2" y2="322.5" stroke="#3a3a3a" stroke-width="0.9"/>
<line x1="593.55" y1="319.5" x2="593.55" y2="322.5" stroke="#3a3a3a" stroke-width="0.9"/>
<line x1="614.9" y1="319.5" x2="614.9" y2="322.5" stroke="#3a3a3a" stroke-width="0.9"/>
<polyline points="486.8,263.8 508.15,256.5 529.5,266.3 550.85,274.5 572.2,253.2 593.55,271.4 614.9,235.8" fill="none" stroke="#3434cc" stroke-width="1.15"/>
<circle cx="486.8" cy="263.8" r="1.6" fill="#0000d8"/>
<circle cx="508.15" cy="256.5" r="1.6" fill="#0000d8"/>
<circle cx="529.5" cy="266.3" r="1.6" fill="#0000d8"/>
<circle cx="550.85" cy="274.5" r="1.6" fill="#0000d8"/>
<circle cx="572.2" cy="253.2" r="1.6" fill="#0000d8"/>
<circle cx="593.55" cy="271.4" r="1.6" fill="#0000d8"/>
<circle cx="614.9" cy="235.8" r="1.6" fill="#0000d8"/>
<text x="468.3" y="227.3" font-size="8.1" font-weight="bold" textLength="8.5" lengthAdjust="spacingAndGlyphs" fill="#1a1a1a" stroke="#1a1a1a" stroke-width="0.5">1.5</text>
<text x="468.3" y="274.8" font-size="8.1" font-weight="bold" textLength="8.5" lengthAdjust="spacingAndGlyphs" fill="#1a1a1a" stroke="#1a1a1a" stroke-width="0.5">1.0</text>
<text x="468.3" y="322.4" font-size="8.1" font-weight="bold" textLength="8.5" lengthAdjust="spacingAndGlyphs" fill="#1a1a1a" stroke="#1a1a1a" stroke-width="0.5">0.5</text>
<text transform="translate(486.8,331.72) scale(0.94,1)" font-size="7.6" font-weight="bold" text-anchor="middle" fill="#1a1a1a" stroke="#1a1a1a" stroke-width="0.5">100</text>
<text transform="translate(508.15,331.72) scale(0.94,1)" font-size="7.6" font-weight="bold" text-anchor="middle" fill="#1a1a1a" stroke="#1a1a1a" stroke-width="0.5">50</text>
<text transform="translate(529.5,331.72) scale(0.94,1)" font-size="7.6" font-weight="bold" text-anchor="middle" fill="#1a1a1a" stroke="#1a1a1a" stroke-width="0.5">25</text>
<text transform="translate(550.85,331.72) scale(0.94,1)" font-size="7.6" font-weight="bold" text-anchor="middle" fill="#1a1a1a" stroke="#1a1a1a" stroke-width="0.5">10</text>
<text transform="translate(572.2,331.72) scale(0.94,1)" font-size="7.6" font-weight="bold" text-anchor="middle" fill="#1a1a1a" stroke="#1a1a1a" stroke-width="0.5">1</text>
<text transform="translate(593.55,331.72) scale(0.94,1)" font-size="7.6" font-weight="bold" text-anchor="middle" fill="#1a1a1a" stroke="#1a1a1a" stroke-width="0.5">0,1</text>
<text transform="translate(614.9,331.72) scale(0.94,1)" font-size="7.6" font-weight="bold" text-anchor="middle" fill="#1a1a1a" stroke="#1a1a1a" stroke-width="0.5">0,01</text>
<text x="627" y="249.19" font-size="7.8" textLength="19" lengthAdjust="spacingAndGlyphs" fill="#333" stroke="#333" stroke-width="0.3">100%</text>
<text x="626.3" y="274.59" font-size="7.8" textLength="14.9" lengthAdjust="spacingAndGlyphs" fill="#333" stroke="#333" stroke-width="0.3">80%</text>
<circle cx="622.1" cy="291" r="1.45" fill="#151515"/>
<circle cx="626.4" cy="291" r="1.45" fill="#151515"/>
<circle cx="620.9" cy="306.9" r="1.45" fill="#151515"/>
<circle cx="625.2" cy="306.9" r="1.45" fill="#151515"/>
<circle cx="629.5" cy="306.9" r="1.45" fill="#151515"/>
<text x="536.1" y="211.8" font-size="8.4" font-weight="bold" textLength="35.8" lengthAdjust="spacingAndGlyphs" fill="#1a1a1a" stroke="#1a1a1a" stroke-width="0.2">HEK 72h</text>
<text x="530.8" y="346.86" font-size="8" font-weight="bold" textLength="68.2" lengthAdjust="spacingAndGlyphs" fill="#1a1a1a" stroke="#1a1a1a" stroke-width="0.2" xml:space="preserve" style="white-space:pre">Ambenonium (µM)</text>
<text transform="translate(463.21,293.25) rotate(-90)" x="0" y="0" font-size="8.0" textLength="41.4" lengthAdjust="spacingAndGlyphs" fill="#1a1a1a" stroke="#1a1a1a" stroke-width="0.25">OD (580nm)</text>
<line x1="621.9" y1="48.1" x2="630.7" y2="48.1" stroke="#3434cc" stroke-width="1"/>
<circle cx="626.5" cy="48.1" r="1.6" fill="#0000d8"/>
<line x1="621.9" y1="59" x2="630.7" y2="59" stroke="#ff2a2a" stroke-width="1.6" stroke-dasharray="2.1 1.6"/>
<line x1="621.9" y1="69.9" x2="630.7" y2="69.9" stroke="#f89a48" stroke-width="1.6" stroke-dasharray="2.1 1.6"/>
<text x="638.1" y="48.86" font-size="6.6" font-weight="bold" textLength="40.1" lengthAdjust="spacingAndGlyphs" fill="#222" stroke="#222" stroke-width="0.15">Ambenonium</text>
<text x="638.1" y="59.76" font-size="6.6" font-weight="bold" textLength="21.9" lengthAdjust="spacingAndGlyphs" fill="#222" stroke="#222" stroke-width="0.15">TRITON</text>
<text x="638.1" y="72.56" font-size="6.6" font-weight="bold" textLength="18.3" lengthAdjust="spacingAndGlyphs" fill="#222" stroke="#222" stroke-width="0.15">DMSO</text>
</svg>
</body></html>
